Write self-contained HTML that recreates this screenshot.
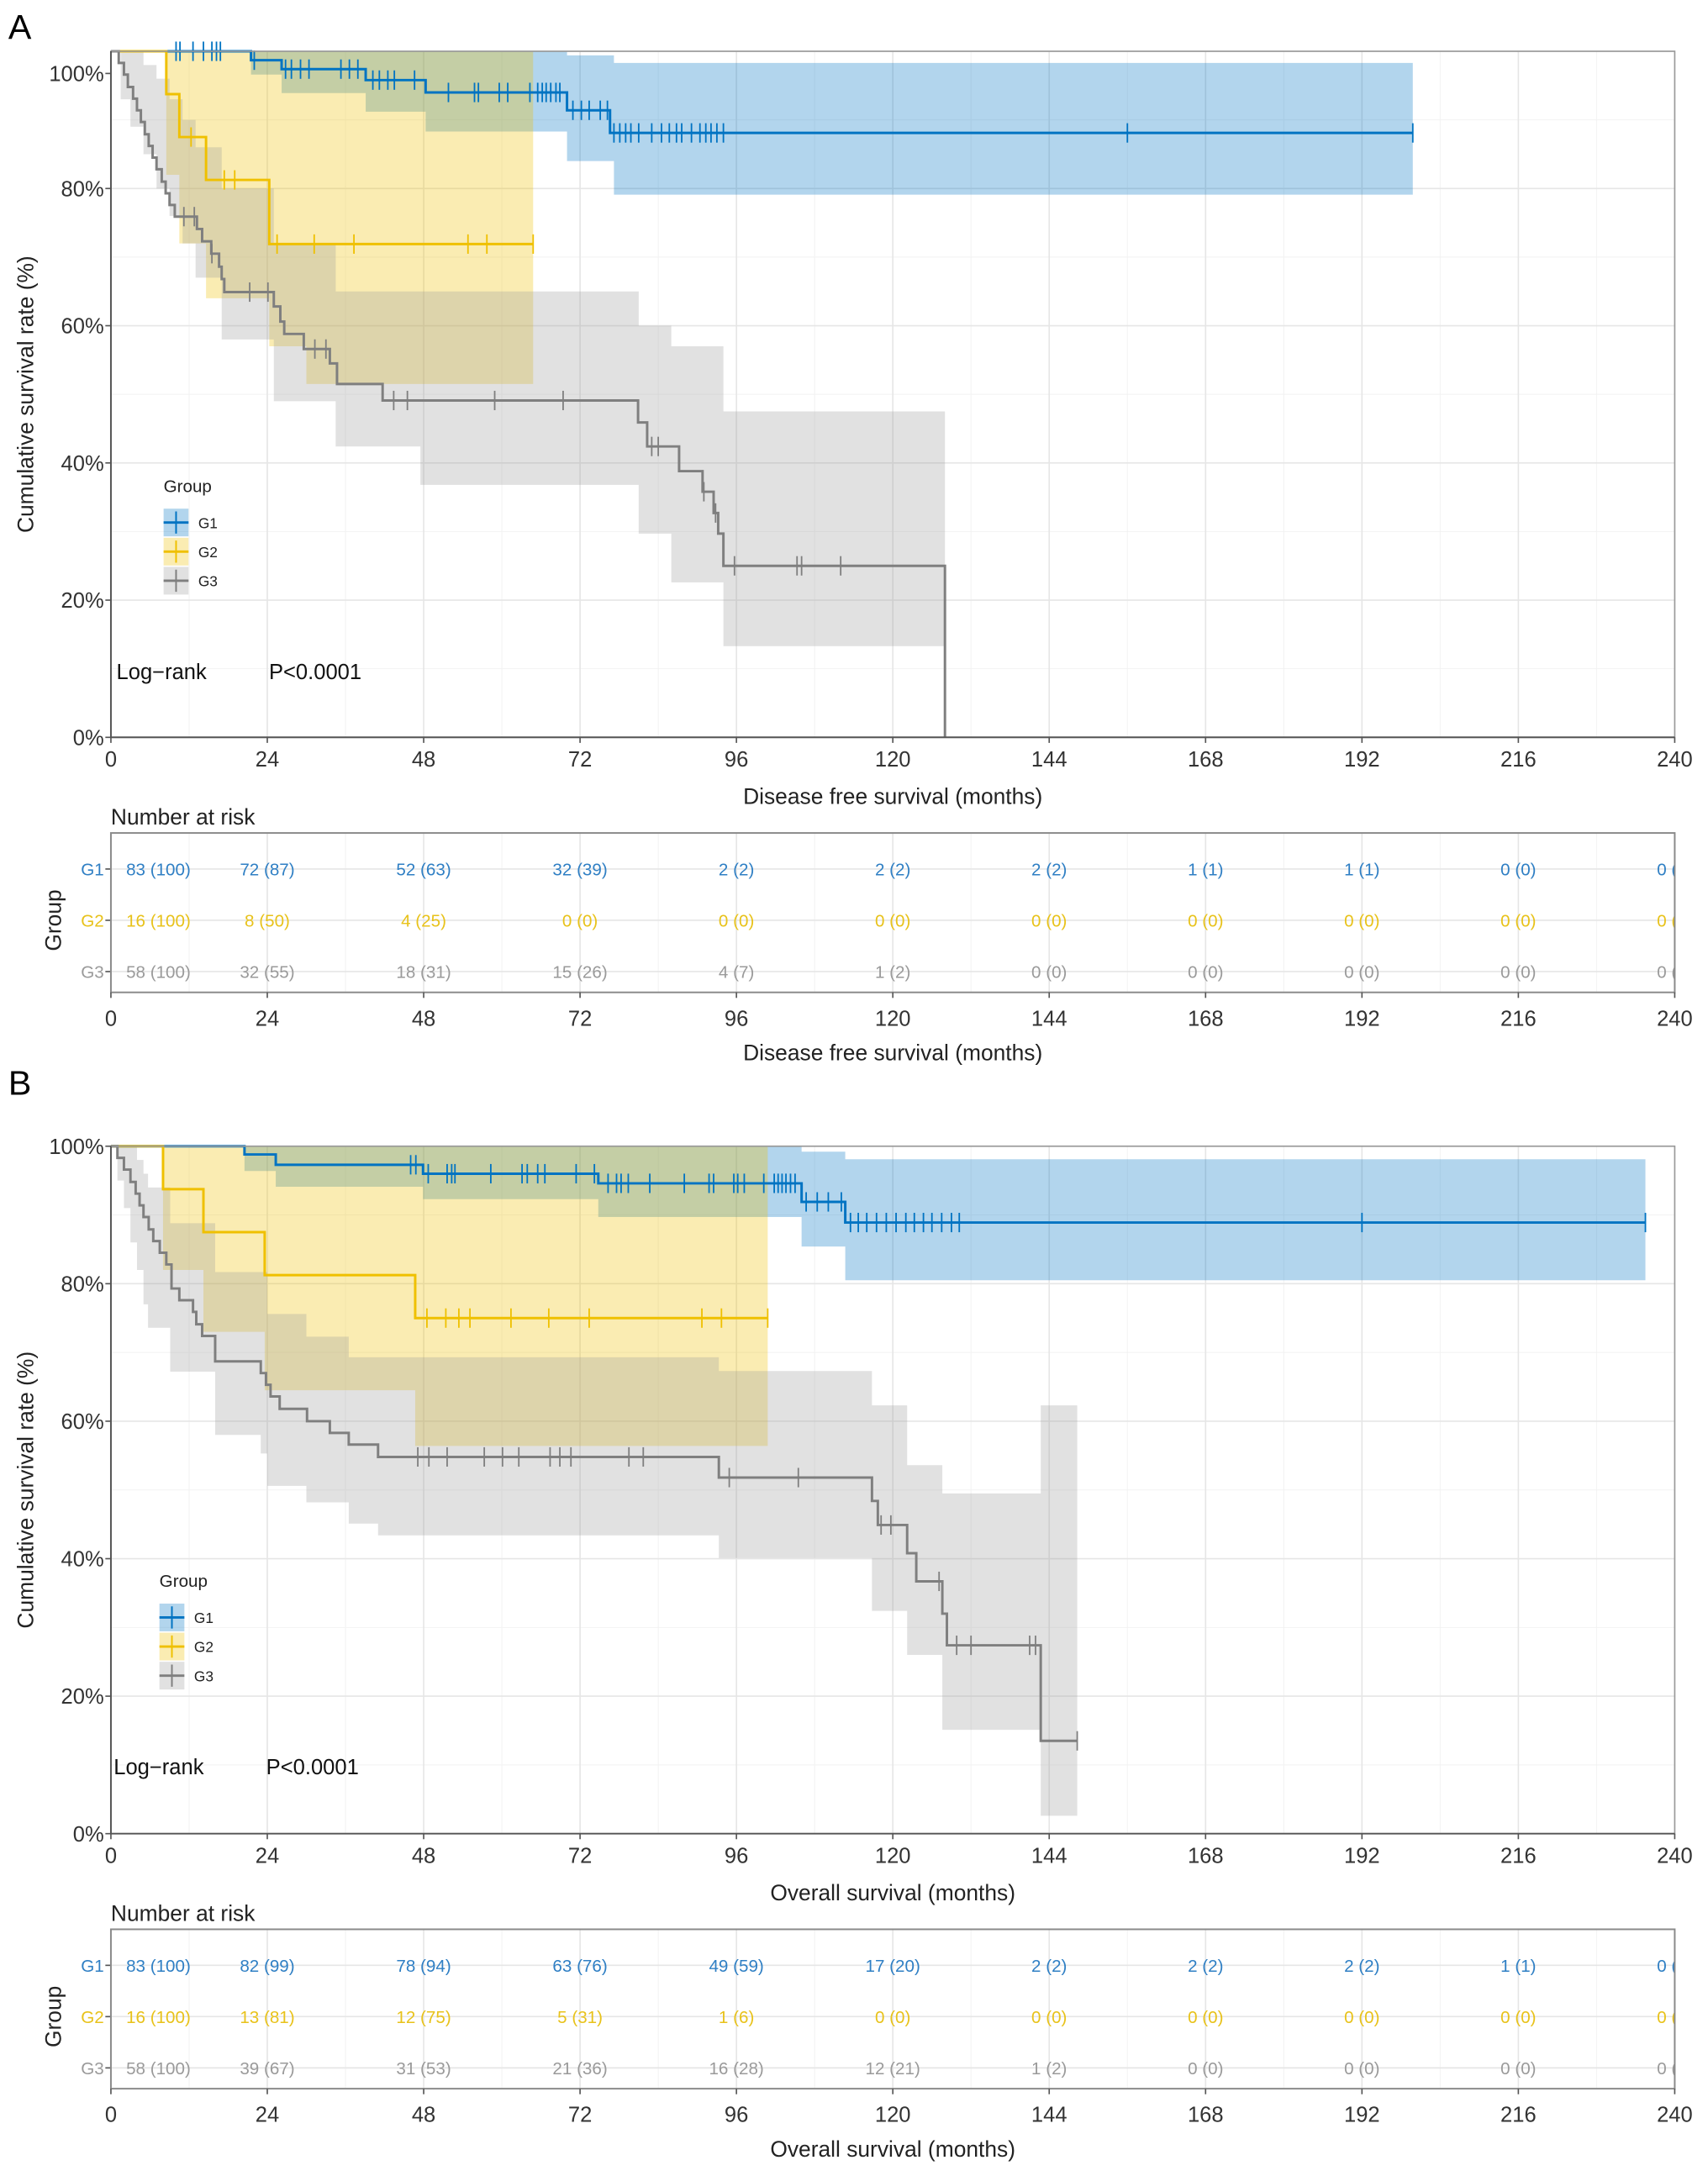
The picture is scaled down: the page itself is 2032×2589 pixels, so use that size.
<!DOCTYPE html>
<html><head><meta charset="utf-8">
<style>
html,body{margin:0;padding:0;background:#fff;}
svg{display:block;font-family:"Liberation Sans",Arial,sans-serif;}
</style></head>
<body>
<svg id="fig" width="2032" height="2589" viewBox="0 0 1232 1570" preserveAspectRatio="none" xmlns="http://www.w3.org/2000/svg"></svg>
<script>
// ---------- DATA ----------
const xTicks=[0,24,48,72,96,120,144,168,192,216,240];
const yTicks=[0,20,40,60,80,100];
const yTickLabels=["0%","20%","40%","60%","80%","100%"];
const groups=["G1","G2","G3"];

// Panel A (Disease free survival)
const A_G1_t=[0,21.5,26.2,39.1,48.3,70,76.6];
const A_G1_v=[100,98.7,97.4,95.8,94.0,91.4,88.1];
const A_G1_end=199.8;
const A_G1_cens=[10,10.6,12.6,14.2,15.5,16.2,16.8,22,26.8,27.7,29.1,30.4,35.3,36.6,37.9,40.2,41.2,42.5,43.5,46.6,51.8,55.8,56.4,59.6,60.9,64.3,65.5,66.2,66.8,67.5,68.3,68.9,70.9,72.2,73.4,75.1,76.2,77.2,78.1,79,79.8,81,83,84.5,85.7,86.8,87.6,89.1,90.4,91.3,92.1,93,94,156,199.8];
const A_G1_ciT=[0,21.5,26.2,39.1,48.3,70,77.2];
const A_G1_lo=[100,96.6,93.9,91.2,88.3,84,79.1];
const A_G1_hi=[100,100,100,100,100,99.4,98.3];

const A_G2_t=[0,8.5,10.5,14.6,24.3];
const A_G2_v=[100,93.75,87.5,81.25,71.9];
const A_G2_end=64.8;
const A_G2_cens=[12.3,17.4,19,25.5,31.2,37.3,54.8,57.7,64.8];
const A_G2_ciT=[0,8.5,10.5,14.6,24.3,30];
const A_G2_lo=[100,82,72,64,57,51.5];
const A_G2_hi=[100,100,100,100,100,100];

const A_G3_t=[0,1.2,2.0,2.6,3.4,4.0,4.6,5.2,5.8,6.4,7.0,7.8,8.4,9.0,9.8,13.2,14.0,15.4,16.6,17.0,17.4,25.0,26.0,26.6,29.6,33.6,34.7,41.7,80.9,82.3,87.2,90.8,92.5,93.2,94,128];
const A_G3_v=[100,98.3,96.6,94.8,93.1,91.4,89.7,87.9,86.2,84.5,82.8,81.0,79.3,77.6,75.9,74.1,72.3,70.5,68.6,66.8,64.9,62.8,60.6,58.8,56.6,54.5,51.5,49.1,45.9,42.4,38.8,35.8,32.7,29.7,25.0,0];
const A_G3_end=128;
const A_G3_cens=[11.2,12.8,15.5,21.3,24.1,31.3,33,43.4,45.5,58.9,69.4,83,84,91,92.8,95.7,105.3,106,112];
const A_G3_ciT=[0,1.5,3,5,7,9,11,13,17,25,34.5,47.5,81,86,94];
const A_G3_lo=[100,93,89,85,80,76,72,67,58,49,42.4,36.8,29.7,22.6,13.3];
const A_G3_hi=[100,100,100,98,96,93,90,86,80,72,65,65,60,57,47.5];

// Panel B (Overall survival)
const B_G1_t=[0,20.5,25.3,47.9,74.8,106,112.7];
const B_G1_v=[100,98.8,97.3,96.0,94.6,91.9,88.9];
const B_G1_end=235.5;
const B_G1_cens=[46,46.8,48.7,51.6,52.3,52.8,58.3,63.1,63.9,65.5,66.6,71.4,74.2,76.3,77.6,78.3,79.4,82.7,88,91.8,92.5,95.6,96.2,97.2,100.2,101.8,102.4,103,103.6,104.3,105,106.7,108.4,110.1,112.1,113.5,114.7,116,117.5,119,120.5,122,123.3,124.7,126,127.5,129,130.2,192,235.5];
const B_G1_ciT=[0,20.5,25.3,47.9,74.8,106,112.7];
const B_G1_lo=[100,96.4,94.1,92.3,89.7,85.4,80.5];
const B_G1_hi=[100,100,100,100,100,99.2,98.1];

const B_G2_t=[0,8,14.2,23.6,46.7];
const B_G2_v=[100,93.75,87.5,81.25,75];
const B_G2_end=100.8;
const B_G2_cens=[48.5,51.4,53.4,55.1,61.4,67.2,73.4,90.7,93.7,100.8];
const B_G2_ciT=[0,8,14.2,23.6,46.7];
const B_G2_lo=[100,82,73,64.5,56.4];
const B_G2_hi=[100,100,100,100,100];

const B_G3_t=[0,1,2,3,3.8,4.4,5,5.8,6.5,7.5,8.5,9.3,10.5,12.6,13.1,14,16,23,23.8,24.5,25.9,30.1,33.6,36.5,41,93.3,116.8,117.7,122.2,123.6,127.6,128.3,142.7];
const B_G3_v=[100,98.3,96.6,94.8,93.1,91.4,89.7,87.9,86.2,84.5,82.8,79.3,77.6,75.9,74.1,72.4,68.7,67.0,65.3,63.6,61.8,60.0,58.3,56.6,54.8,51.8,48.4,44.9,40.8,36.7,32.0,27.4,13.5];
const B_G3_end=148.3;
const B_G3_cens=[47.1,48.8,51.6,57.3,60.1,62.6,67.4,68.9,70.6,79.5,81.7,94.9,105.5,118.2,119.7,127.1,129.8,132,141,141.9,148.3];
const B_G3_ciT=[0,1,2,3,4,5,5.7,9.1,16,23,24,30,36.5,41,93.3,116.8,122.2,127.6,142.7];
const B_G3_lo=[100,95,91,86,82,77,73.6,67.2,58,55.3,50.6,48.2,45.1,43.4,40.1,32.4,26,15.1,2.6];
const B_G3_hi=[100,100,100,100,98,96,94,88.8,81.7,81.7,75.6,72.3,69.3,69.3,67.3,62.3,53.6,49.5,62.3];

// Number at risk
const A_risk_G1=["83 (100)","72 (87)","52 (63)","32 (39)","2 (2)","2 (2)","2 (2)","1 (1)","1 (1)","0 (0)","0 (0)"];
const A_risk_G2=["16 (100)","8 (50)","4 (25)","0 (0)","0 (0)","0 (0)","0 (0)","0 (0)","0 (0)","0 (0)","0 (0)"];
const A_risk_G3=["58 (100)","32 (55)","18 (31)","15 (26)","4 (7)","1 (2)","0 (0)","0 (0)","0 (0)","0 (0)","0 (0)"];
const B_risk_G1=["83 (100)","82 (99)","78 (94)","63 (76)","49 (59)","17 (20)","2 (2)","2 (2)","2 (2)","1 (1)","0 (0)"];
const B_risk_G2=["16 (100)","13 (81)","12 (75)","5 (31)","1 (6)","0 (0)","0 (0)","0 (0)","0 (0)","0 (0)","0 (0)"];
const B_risk_G3=["58 (100)","39 (67)","31 (53)","21 (36)","16 (28)","12 (21)","1 (2)","0 (0)","0 (0)","0 (0)","0 (0)"];

// ---------- DRAWING ----------
const NS="http://www.w3.org/2000/svg";
const svg=document.getElementById("fig");
const COL=["#0073C2","#EFC000","#7f7f7f"];
const FILL=["#0073C2","#EFC000","#9a9a9a"];
const TXT=["#2f7fc4","#e8c21a","#9a9a9a"];
const XL=80, XR=1208;
function X(m){return XL+m*(XR-XL)/240;}
function mk(tag,attrs,parent){const e=document.createElementNS(NS,tag);for(const k in attrs)e.setAttribute(k,attrs[k]);(parent||svg).appendChild(e);return e;}
function valAt(t,v,x){let r=v[0];for(let i=0;i<t.length;i++){if(t[i]<=x)r=v[i];}return r;}

function drawPanel(P){
  const Y=v=>P.y0-v*(P.y0-P.y100)/100;
  const g=mk("g",{});
  
  
  const lab=mk("text",{x:6,y:P.letterY,"font-size":25,fill:"#000"},g);
  
  
  lab.textContent=P.letter;
  for(let m=12;m<240;m+=24){const l=mk("line",{x1:X(m),x2:X(m),y1:P.y100,y2:P.y0,stroke:"#f2f2f2","stroke-width":0.6},g);
    
    }
  for(let v=10;v<100;v+=20){const l=mk("line",{x1:XL,x2:XR,y1:Y(v),y2:Y(v),stroke:"#f2f2f2","stroke-width":0.6},g);
    
    }
  xTicks.forEach(m=>{const l=mk("line",{x1:X(m),x2:X(m),y1:P.y100,y2:P.y0,stroke:"#e6e6e6","stroke-width":1},g);
    
    });
  yTicks.forEach(v=>{const l=mk("line",{x1:XL,x2:XR,y1:Y(v),y2:Y(v),stroke:"#e6e6e6","stroke-width":1},g);
    
    });
  P.series.forEach((S,i)=>{
    let d="M"+X(S.ciT[0])+","+Y(S.hi[0]);
    for(let k=1;k<S.ciT.length;k++){d+="H"+X(S.ciT[k])+"V"+Y(S.hi[k]);}
    d+="H"+X(S.end)+"V"+Y(S.lo[S.lo.length-1]);
    for(let k=S.ciT.length-1;k>=1;k--){d+="H"+X(S.ciT[k])+"V"+Y(S.lo[k-1]);}
    d+="H"+X(S.ciT[0])+"Z";
    const r=mk("path",{d:d,fill:FILL[i],"fill-opacity":0.3,stroke:"none"},g);
    
    
  });
  P.series.forEach((S,i)=>{
    let d="M"+X(S.t[0])+","+Y(S.v[0]);
    for(let k=1;k<S.t.length;k++){d+="H"+X(S.t[k])+"V"+Y(S.v[k]);}
    d+="H"+X(S.end);
    const p=mk("path",{d:d,fill:"none",stroke:COL[i],"stroke-width":1.8},g);
    
    
    S.cens.forEach(c=>{const yy=Y(valAt(S.t,S.v,c));
      const l=mk("line",{x1:X(c),x2:X(c),y1:yy-7,y2:yy+7,stroke:COL[i],"stroke-width":1.1},g);
      
      });
  });
  const b=mk("rect",{x:XL,y:P.y100,width:XR-XL,height:P.y0-P.y100,fill:"none",stroke:"#9a9a9a","stroke-width":1},g);
  
  
  const ax=mk("path",{d:"M"+XL+","+P.y100+"V"+P.y0+"H"+XR,fill:"none",stroke:"#555","stroke-width":1.2},g);
  
  
  yTicks.forEach((v,k)=>{const yy=(v===100&&P.y100Label)?P.y100Label:Y(v);
    const t=mk("line",{x1:XL-4,x2:XL,y1:yy,y2:yy,stroke:"#555"},g);
    
    
    const tx=mk("text",{x:XL-5,y:yy+5.5,"text-anchor":"end","font-size":15.5,fill:"#333"},g);
    
    
    tx.textContent=yTickLabels[k];});
  xTicks.forEach(m=>{const t=mk("line",{x1:X(m),x2:X(m),y1:P.y0,y2:P.y0+4,stroke:"#555"},g);
    
    
    const tx=mk("text",{x:X(m),y:P.y0+21,"text-anchor":"middle","font-size":15.5,fill:"#333"},g);
    
    
    tx.textContent=m;});
  const xt=mk("text",{x:(XL+XR)/2,y:P.y0+48,"text-anchor":"middle","font-size":16,fill:"#222"},g);
  
  
  xt.textContent=P.xtitle;
  const yc=(P.y0+P.y100)/2;
  const yt=mk("text",{x:0,y:0,transform:"translate(24,"+yc+") rotate(-90)","text-anchor":"middle","font-size":16,fill:"#222"},g);
  
  
  yt.textContent="Cumulative survival rate (%)";
  const lg=mk("g",{},g);
  
  
  const lt=mk("text",{x:P.legX,y:P.legY,"font-size":12.5,fill:"#222"},lg);
  
  
  lt.textContent="Group";
  groups.forEach((gname,i)=>{const cy=P.legY+22+i*21;
    const e=mk("g",{},lg);
    
    
    mk("rect",{x:P.legX,y:cy-10,width:18,height:20,fill:FILL[i],"fill-opacity":0.3},e);
    mk("line",{x1:P.legX,x2:P.legX+18,y1:cy,y2:cy,stroke:COL[i],"stroke-width":1.8},e);
    mk("line",{x1:P.legX+9,x2:P.legX+9,y1:cy-8,y2:cy+8,stroke:COL[i],"stroke-width":1.2},e);
    const tx=mk("text",{x:P.legX+25,y:cy+4,"font-size":10.5,fill:"#222"},e);
    tx.textContent=gname;});
  const lr=mk("text",{x:P.lrX,y:P.lrY,"font-size":15.5,fill:"#111"},g);
  
  
  lr.textContent="Log\u2212rank";
  const pv=mk("text",{x:P.lrX+110,y:P.lrY,"font-size":15.5,fill:"#111"},g);
  
  
  pv.textContent="P<0.0001";
}

function drawRisk(R){
  const g=mk("g",{});
  
  
  const tt=mk("text",{x:XL,y:R.top-6,"font-size":16,fill:"#222"},g);
  
  
  tt.textContent="Number at risk";
  const cid="clip-"+R.name;
  const cp=mk("clipPath",{id:cid},g);
  mk("rect",{x:XL,y:R.top,width:XR-XL,height:R.bot-R.top},cp);
  for(let m=12;m<240;m+=24){const l=mk("line",{x1:X(m),x2:X(m),y1:R.top,y2:R.bot,stroke:"#f2f2f2","stroke-width":0.6},g);
    
    }
  xTicks.forEach(m=>{const l=mk("line",{x1:X(m),x2:X(m),y1:R.top,y2:R.bot,stroke:"#e6e6e6"},g);
    
    });
  R.rows.forEach((row,i)=>{const yy=R.rowY[i];
    const hl=mk("line",{x1:XL,x2:XR,y1:yy,y2:yy,stroke:"#e6e6e6"},g);
    
    
    const tk=mk("line",{x1:XL-4,x2:XL,y1:yy,y2:yy,stroke:"#555"},g);
    
    
    const rl=mk("text",{x:XL-5,y:yy+4.5,"text-anchor":"end","font-size":12.5,fill:TXT[i]},g);
    
    
    rl.textContent=groups[i];
    row.forEach((val,k)=>{const first=k===0;
      const tx=mk("text",{x:first?X(0)+11:X(xTicks[k]),y:yy+4.5,"text-anchor":first?"start":"middle","font-size":12.5,fill:TXT[i],"clip-path":"url(#"+cid+")"},g);
      
      
      tx.textContent=val;});
  });
  const b=mk("rect",{x:XL,y:R.top,width:XR-XL,height:R.bot-R.top,fill:"none",stroke:"#8a8a8a","stroke-width":1.2},g);
  
  
  xTicks.forEach(m=>{const t=mk("line",{x1:X(m),x2:X(m),y1:R.bot,y2:R.bot+4,stroke:"#555"},g);
    
    
    const tx=mk("text",{x:X(m),y:R.bot+24,"text-anchor":"middle","font-size":15.5,fill:"#333"},g);
    
    
    tx.textContent=m;});
  const xt=mk("text",{x:(XL+XR)/2,y:R.bot+49,"text-anchor":"middle","font-size":16,fill:"#222"},g);
  
  
  xt.textContent=R.xtitle;
  const yt=mk("text",{x:0,y:0,transform:"translate(44,"+R.rowY[1]+") rotate(-90)","text-anchor":"middle","font-size":16,fill:"#222"},g);
  
  
  yt.textContent="Group";
}

drawPanel({name:"panel-a",letter:"A",letterY:28,y0:532,y100:37,y100Label:53,xtitle:"Disease free survival (months)",legX:118,legY:355,lrX:84,lrY:490,
  series:[
    {t:A_G1_t,v:A_G1_v,end:A_G1_end,cens:A_G1_cens,ciT:A_G1_ciT,lo:A_G1_lo,hi:A_G1_hi},
    {t:A_G2_t,v:A_G2_v,end:A_G2_end,cens:A_G2_cens,ciT:A_G2_ciT,lo:A_G2_lo,hi:A_G2_hi},
    {t:A_G3_t,v:A_G3_v,end:A_G3_end,cens:A_G3_cens,ciT:A_G3_ciT,lo:A_G3_lo,hi:A_G3_hi}]});
drawRisk({name:"panel-a",top:601,bot:716,rowY:[627,664,701],rows:[A_risk_G1,A_risk_G2,A_risk_G3],xtitle:"Disease free survival (months)"});

drawPanel({name:"panel-b",letter:"B",letterY:790,y0:1323,y100:827,xtitle:"Overall survival (months)",legX:115,legY:1145,lrX:82,lrY:1280,
  series:[
    {t:B_G1_t,v:B_G1_v,end:B_G1_end,cens:B_G1_cens,ciT:B_G1_ciT,lo:B_G1_lo,hi:B_G1_hi},
    {t:B_G2_t,v:B_G2_v,end:B_G2_end,cens:B_G2_cens,ciT:B_G2_ciT,lo:B_G2_lo,hi:B_G2_hi},
    {t:B_G3_t,v:B_G3_v,end:B_G3_end,cens:B_G3_cens,ciT:B_G3_ciT,lo:B_G3_lo,hi:B_G3_hi}]});
drawRisk({name:"panel-b",top:1392,bot:1507,rowY:[1418,1455,1492],rows:[B_risk_G1,B_risk_G2,B_risk_G3],xtitle:"Overall survival (months)"});
</script>
</body></html>
